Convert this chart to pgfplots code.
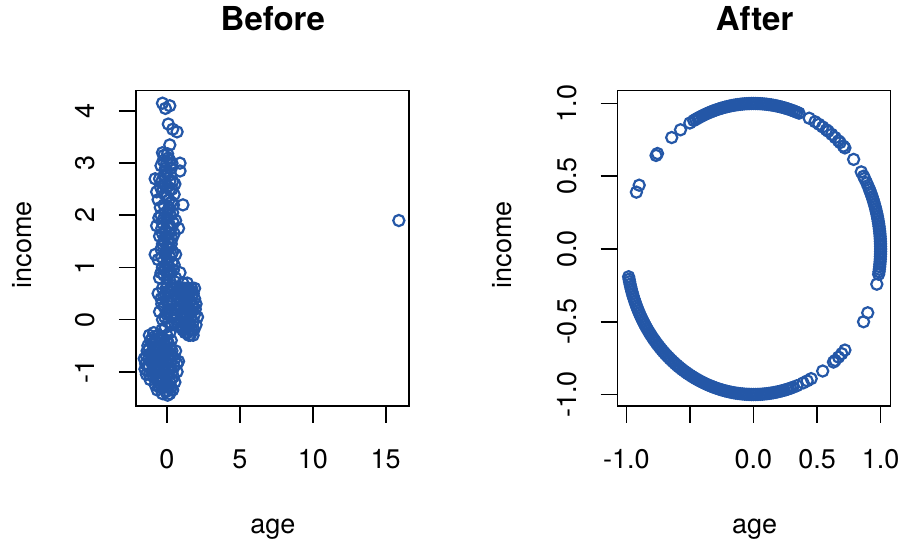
\documentclass[border=0pt]{standalone}
\usepackage{fontspec}
\setmainfont{TeX Gyre Heros}
\usepackage{pgfplots}
\pgfplotsset{compat=1.18}
\definecolor{rblue}{RGB}{36,87,167}
\pgfplotsset{
  rstyle/.style={
    scale only axis,
    width=136.5pt, height=157.75pt,
    axis line style={line width=0.8pt},
    tick align=outside,
    major tick length=8.5pt,
    tick style={line width=0.8pt, black},
    xtick pos=bottom, ytick pos=left,
    /pgf/number format/assume math mode=true,
    tick label style={font=\fontsize{13.5}{15}\selectfont},
    xticklabel style={anchor=base, yshift=-23pt},
    yticklabel style={xshift=-12pt, rotate=90, anchor=base},
    anchor=south west,
  },
  rpts/.style={only marks, mark=o, mark size=2.8pt,
    mark options={draw=rblue, line width=1.1pt}},
}
\begin{document}
\begin{tikzpicture}[x=0.5pt,y=0.5pt]
% ---------------- Before ----------------
\begin{axis}[rstyle, at={(68pt,68.75pt)},
  xmin=-2.12, xmax=16.58, ymin=-1.657, ymax=4.39,
  xtick={0,5,10,15}, ytick={-1,0,1,2,3,4}]
\addplot[rpts] coordinates {
(-0.2,3.15) (0.1,3.1) (-0.4,2.95) (0.3,2.9) (0.0,2.8) (-0.5,2.7) (0.4,2.65)
(-0.1,2.6) (0.2,2.5) (-0.3,2.45) (0.5,2.4) (0.0,2.35) (-0.6,2.3) (0.3,2.25)
(-0.2,2.2) (0.1,2.1) (0.4,2.05) (-0.4,2.0) (0.0,1.95) (0.6,1.9) (-0.3,1.85)
(0.2,1.8) (-0.1,1.7) (0.5,1.65) (-0.5,1.6) (0.1,1.55) (-0.2,1.5) (0.3,1.45)
(0.0,1.4) (-0.4,1.35) (0.4,1.3) (-0.1,1.25) (0.2,1.2) (-0.6,1.15) (0.0,1.1)
(0.5,1.05) (-0.3,1.0) (0.1,0.95) (0.3,0.9) (-0.2,0.85) (-0.5,0.8) (0.2,0.75)
(0.0,0.7) (0.4,0.65) (-0.3,0.6) (0.1,0.55) (-0.1,0.5) (0.3,0.45) (-0.4,0.4)
(0.0,0.35) (0.2,0.3) (-0.2,0.25) (0.1,0.2) (-0.5,0.15) (0.0,0.1) (0.3,0.05)
(-0.3,0.0) (0.1,-0.05) (-0.1,-0.15) (0.2,-0.25) (-0.2,2.75) (0.2,2.65)
(-0.1,2.05) (0.1,1.35) (-0.3,1.65) (0.3,1.75) (0.0,3.0) (-0.1,2.9) (0.2,3.05)
(-0.3,3.2) (0.15,2.15) (-0.15,0.95) (0.35,1.1) (-0.45,2.55) (0.45,2.2)
(-0.3,4.15) (0.2,4.1) (-0.1,4.05) (0.1,3.75) (0.4,3.65) (0.7,3.6) (0.2,3.35)
(0.9,2.85) (1.1,2.2) (0.9,3.0) (0.6,1.25) (-0.8,2.7) (-0.7,2.45) (-0.7,1.8)
(0.8,1.75) (0.9,0.9) (-0.8,1.25)
(0.05,3.18) (-0.25,3.05) (0.35,3.0) (-0.05,2.85) (0.25,2.78) (-0.35,2.65)
(0.05,2.55) (0.35,2.5) (-0.15,2.4) (0.15,2.3) (-0.45,2.15) (0.25,2.0)
(-0.2,1.95) (0.45,1.85) (0.05,1.8) (-0.35,1.75) (0.15,1.65) (-0.1,1.6)
(0.35,1.55) (-0.3,1.45) (0.15,1.45) (-0.05,1.3) (0.3,1.25) (-0.35,1.2)
(0.1,1.05) (-0.1,1.0) (0.45,0.95) (-0.4,0.9) (0.05,0.85) (-0.05,0.6)
(0.25,0.6) (-0.2,0.45) (0.45,0.35) (-0.35,0.3) (0.05,0.15) (-0.15,0.05)
(0.35,-0.1) (-0.35,-0.2) (0.0,-0.3) (0.5,0.2) (-0.55,1.95) (0.55,2.6)
(0.6,0.8) (-0.6,0.5)
(0.6,0.5) (0.9,0.6) (1.2,0.55) (1.5,0.6) (1.8,0.5) (2.0,0.3) (1.9,0.1)
(2.0,-0.1) (1.7,-0.2) (1.4,-0.25) (1.1,-0.2) (0.8,-0.1) (0.6,0.1) (0.7,0.3)
(1.0,0.35) (1.3,0.4) (1.6,0.35) (1.4,0.1) (1.1,0.1) (1.7,0.15) (0.9,0.2)
(1.2,-0.05) (1.5,-0.05) (1.8,-0.05) (1.0,-0.05) (1.3,0.25) (1.6,0.2) (0.8,0.4)
(1.9,0.4) (1.5,0.45) (1.1,0.45) (1.3,-0.15) (1.6,-0.1) (0.7,-0.05) (1.7,0.45)
(1.4,0.3) (1.0,0.2) (1.2,0.2) (1.8,0.25) (1.5,0.15) (1.4,0.7) (1.5,-0.3)
(1.3,0.05) (1.2,0.6) (1.7,0.6) (1.8,-0.3)
(0.75,0.55) (1.05,0.6) (1.35,0.6) (1.65,0.55) (1.95,0.2) (1.85,-0.2)
(1.55,-0.2) (1.25,-0.25) (0.95,-0.15) (0.65,0.0) (0.85,0.25) (1.15,0.3)
(1.45,0.25) (1.75,0.3) (1.05,0.05) (1.35,-0.05) (1.65,0.05) (0.9,0.5)
(1.25,0.45) (1.55,0.5) (1.1,0.7) (1.9,0.6) (2.1,0.05) (1.6,-0.3)
(-1.2,-0.3) (-0.9,-0.25) (-0.6,-0.3) (-0.3,-0.35) (0.0,-0.4) (-1.3,-0.5)
(-1.0,-0.45) (-0.7,-0.5) (-0.4,-0.55) (-0.1,-0.5) (0.2,-0.55) (-1.4,-0.7)
(-1.1,-0.65) (-0.8,-0.7) (-0.5,-0.75) (-0.2,-0.7) (0.1,-0.75) (0.4,-0.7)
(-1.3,-0.9) (-1.0,-0.85) (-0.7,-0.9) (-0.4,-0.95) (-0.1,-0.9) (0.2,-0.95)
(0.5,-0.9) (-1.2,-1.05) (-0.9,-1.1) (-0.6,-1.1) (-0.3,-1.15) (0.0,-1.1)
(0.3,-1.15) (-0.8,-1.25) (-0.5,-1.3) (-0.2,-1.3) (0.1,-1.3) (0.4,-1.35)
(-0.3,-1.42) (0.2,-1.42) (-1.5,-0.95) (-1.4,-1.05) (0.7,-1.0) (0.6,-0.6)
(0.8,-0.8) (-0.9,-0.55) (-0.6,-0.6) (-0.3,-0.8) (0.0,-0.6) (-1.1,-0.8)
(-0.8,-1.0) (-0.5,-0.9) (-0.2,-1.0) (0.1,-1.05) (-1.0,-0.35) (-0.4,-0.4)
(0.3,-0.4) (-0.6,-1.2) (0.0,-1.2) (-0.15,-0.55) (-0.75,-0.75) (-0.45,-0.65)
(0.25,-0.8) (0.55,-1.2) (-1.35,-0.6) (-1.15,-1.15)
(-1.1,-0.4) (-0.8,-0.4) (-0.5,-0.45) (-0.2,-0.45) (0.1,-0.45) (-1.2,-0.55)
(-0.25,-0.6) (0.35,-0.6) (-1.25,-0.75) (-0.95,-0.75) (-0.65,-0.8) (-0.35,-0.7)
(-0.05,-0.8) (0.25,-0.65) (0.55,-0.75) (-1.2,-0.9) (-0.85,-0.9) (-0.55,-1.0)
(-0.25,-0.9) (0.05,-0.95) (0.35,-1.0) (-1.0,-1.0) (-0.7,-1.15) (-0.4,-1.1)
(-0.1,-1.2) (0.2,-1.2) (0.45,-1.1) (-0.35,-1.3) (-0.05,-1.38) (0.3,-1.3)
(-0.65,-1.35) (0.05,-1.45) (-1.45,-0.85) (-1.55,-0.75) (0.7,-0.85)
(15.9,1.9)
};
\end{axis}
% ---------------- After ----------------
\begin{axis}[rstyle, at={(309pt,68.75pt)},
  xmin=-1.068, xmax=1.078, ymin=-1.079, ymax=1.088,
  xtick={-1,-0.5,0,0.5,1}, xticklabels={-1.0,,0.0,0.5,1.0},
  ytick={-1,-0.5,0,0.5,1}, yticklabels={-1.0,-0.5,0.0,0.5,1.0}]
\addplot[rpts] coordinates {
(0.3420,0.9397) (0.3090,0.9511) (0.2756,0.9613) (0.2419,0.9703) (0.2079,0.9781)
(0.1736,0.9848) (0.1392,0.9903) (0.1045,0.9945) (0.0698,0.9976) (0.0349,0.9994)
(0,1) (-0.0349,0.9994) (-0.0698,0.9976) (-0.1045,0.9945) (-0.1392,0.9903)
(-0.1736,0.9848) (-0.2079,0.9781) (-0.2419,0.9703) (-0.2756,0.9613)
(-0.3090,0.9511) (-0.3420,0.9397) (-0.3746,0.9272) (-0.4067,0.9135)
(-0.4384,0.8988) (-0.4695,0.8829) (-0.5,0.866)
(0.3584,0.9336) (0.3256,0.9455) (0.2924,0.9563) (0.2588,0.9659) (0.2250,0.9744)
(0.1908,0.9816) (0.1564,0.9877) (0.1219,0.9925) (0.0872,0.9962) (0.0523,0.9986)
(0.0175,0.9998) (-0.0175,0.9998) (-0.0523,0.9986) (-0.0872,0.9962)
(-0.1219,0.9925) (-0.1564,0.9877) (-0.1908,0.9816) (-0.2250,0.9744)
(-0.2588,0.9659) (-0.2924,0.9563) (-0.3256,0.9455) (-0.3584,0.9336)
(-0.3907,0.9205) (-0.4226,0.9063) (-0.4540,0.8910)
(-0.9205,0.3907) (-0.8988,0.4384) (-0.7660,0.6428) (-0.7547,0.6561)
(-0.6428,0.7660) (-0.5736,0.8192)
(0.4384,0.8988) (0.4848,0.8746) (0.5150,0.8572) (0.5446,0.8387) (0.5736,0.8192)
(0.5878,0.8090) (0.6157,0.7880) (0.6428,0.7660) (0.6691,0.7431) (0.6820,0.7314)
(0.7071,0.7071) (0.7193,0.6947) (0.7880,0.6157)
(0.8480,0.5299) (0.8660,0.5) (0.8746,0.4848) (0.8910,0.4540) (0.9063,0.4226)
(0.9135,0.4067) (0.9205,0.3907)
(0.9272,0.3746) (0.9397,0.3420) (0.9511,0.3090) (0.9613,0.2756) (0.9703,0.2419)
(0.9781,0.2079) (0.9848,0.1736) (0.9903,0.1392) (0.9945,0.1045) (0.9976,0.0698)
(0.9994,0.0349) (1,0) (0.9994,-0.0349) (0.9976,-0.0698) (0.9945,-0.1045)
(0.9903,-0.1392) (0.9848,-0.1736)
(0.9336,0.3584) (0.9455,0.3256) (0.9563,0.2924) (0.9659,0.2588) (0.9744,0.2250)
(0.9816,0.1908) (0.9877,0.1564) (0.9925,0.1219) (0.9962,0.0872) (0.9986,0.0523)
(0.9998,0.0175) (0.9998,-0.0175) (0.9986,-0.0523) (0.9962,-0.0872)
(0.9925,-0.1219) (0.9877,-0.1564)
(0.9703,-0.2419) (0.8988,-0.4384) (0.8660,-0.5)
(0.7193,-0.6947) (0.6947,-0.7193) (0.6691,-0.7431) (0.6428,-0.7660)
(0.6293,-0.7771) (0.5446,-0.8387) (0.4540,-0.8910) (0.4226,-0.9063)
(0.3907,-0.9205) (0.3420,-0.9397) (0.3090,-0.9511)
(0.2756,-0.9613) (0.2419,-0.9703) (0.2079,-0.9781) (0.1736,-0.9848)
(0.1392,-0.9903) (0.1045,-0.9945) (0.0698,-0.9976) (0.0349,-0.9994) (0,-1)
(-0.0349,-0.9994) (-0.0698,-0.9976) (-0.1045,-0.9945) (-0.1392,-0.9903)
(-0.1736,-0.9848) (-0.2079,-0.9781) (-0.2419,-0.9703) (-0.2756,-0.9613)
(-0.3090,-0.9511) (-0.3420,-0.9397) (-0.3746,-0.9272) (-0.4067,-0.9135)
(-0.4384,-0.8988) (-0.4695,-0.8829) (-0.5,-0.8660) (-0.5299,-0.8480)
(-0.5592,-0.8290) (-0.5878,-0.8090) (-0.6157,-0.7880) (-0.6428,-0.7660)
(-0.6691,-0.7431) (-0.6947,-0.7193) (-0.7193,-0.6947) (-0.7431,-0.6691)
(-0.7660,-0.6428) (-0.7880,-0.6157) (-0.8090,-0.5878) (-0.8290,-0.5592)
(-0.8480,-0.5299) (-0.8660,-0.5) (-0.8829,-0.4695) (-0.8988,-0.4384)
(-0.9135,-0.4067) (-0.9272,-0.3746) (-0.9397,-0.3420) (-0.9511,-0.3090)
(-0.9613,-0.2756) (-0.9703,-0.2419) (-0.9781,-0.2079) (-0.9816,-0.1908)
(0.2924,-0.9563) (0.2588,-0.9659) (0.2250,-0.9744) (0.1908,-0.9816)
(0.1564,-0.9877) (0.1219,-0.9925) (0.0872,-0.9962) (0.0523,-0.9986)
(0.0175,-0.9998) (-0.0175,-0.9998) (-0.0523,-0.9986) (-0.0872,-0.9962)
(-0.1219,-0.9925) (-0.1564,-0.9877) (-0.1908,-0.9816) (-0.2250,-0.9744)
(-0.2588,-0.9659) (-0.2924,-0.9563) (-0.3256,-0.9455) (-0.3584,-0.9336)
(-0.3907,-0.9205) (-0.4226,-0.9063) (-0.4540,-0.8910) (-0.4848,-0.8746)
(-0.5150,-0.8572) (-0.5446,-0.8387) (-0.5736,-0.8192) (-0.6018,-0.7986)
(-0.6293,-0.7771) (-0.6561,-0.7547) (-0.6820,-0.7314) (-0.7071,-0.7071)
(-0.7314,-0.6820) (-0.7547,-0.6561) (-0.7771,-0.6293) (-0.7986,-0.6018)
(-0.8192,-0.5736) (-0.8387,-0.5446) (-0.8572,-0.5150) (-0.8746,-0.4848)
(-0.8910,-0.4540) (-0.9063,-0.4226) (-0.9205,-0.3907) (-0.9336,-0.3584)
(-0.9455,-0.3256) (-0.9563,-0.2924) (-0.9659,-0.2588) (-0.9744,-0.2250)
};
\end{axis}
% ---------------- titles and labels ----------------
\node[anchor=base, font=\fontsize{16.5}{18}\selectfont\bfseries] at (273,513) {Before};
\node[anchor=base, font=\fontsize{16.5}{18}\selectfont\bfseries] at (755,513) {After};
\node[anchor=base, font=\fontsize{13.5}{15}\selectfont] at (273,10) {age};
\node[anchor=base, font=\fontsize{13.5}{15}\selectfont] at (755,10) {age};
\node[anchor=base, rotate=90, font=\fontsize{13.5}{15}\selectfont] at (32,299) {income};
\node[anchor=base, rotate=90, font=\fontsize{13.5}{15}\selectfont] at (512,299) {income};
\path (0,0) rectangle (906,542);
\end{tikzpicture}
\end{document}
